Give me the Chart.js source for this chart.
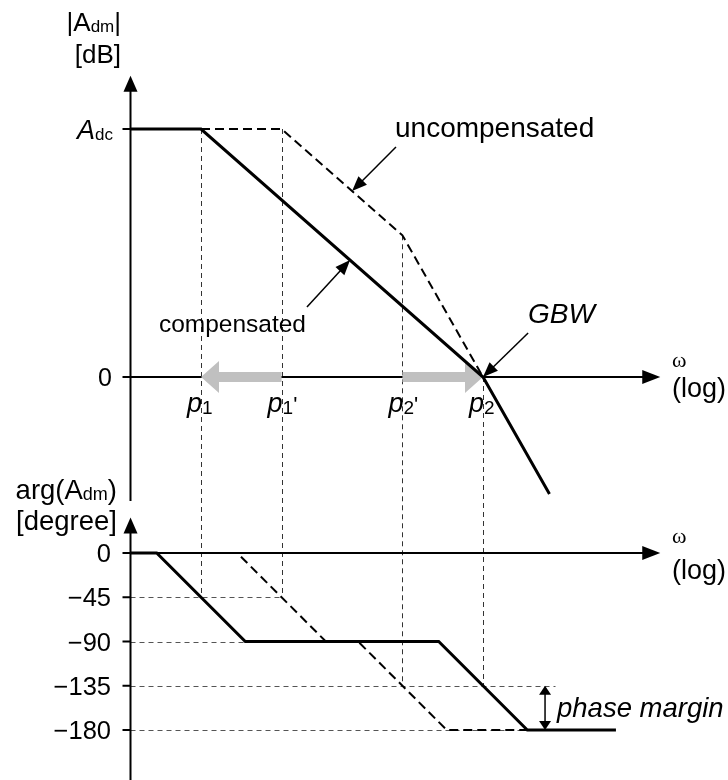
<!DOCTYPE html>
<html>
<head>
<meta charset="utf-8">
<script src="https://cdn.jsdelivr.net/npm/chart.js@4.4.1/dist/chart.umd.min.js"></script>
<style>
  html, body { margin: 0; padding: 0; background: #fff; }
  canvas { display: block; }
</style>
</head>
<body>
<canvas id="bode" width="728" height="780"></canvas>
<script>
// Frequency axis is log10(ω) in decades; poles p1, p1', p2', p2
const poleW = [2, 4, 7, 9];
const poleSub = ['1', '1', '2', '2'];
const polePrime = ['', "'", "'", ''];

// Magnitude asymptotes (dB)
const ADC_DB = 140;
const compMagW = [0.25, 2, 9, 10.65];
const compMagDb = [140, 140, 0, -66];
const uncMagW = [2, 4, 7, 9];
const uncMagDb = [140, 140, 80, 0];

// Phase asymptotes (degrees)
const compPhW = [0.25, 0.9, 3.1, 7.9, 10.1, 12.3];
const compPhDeg = [0, 0, -90, -90, -180, -180];
const uncPhW = [0.25, 2.9, 5.1, 5.9, 8.1, 12.3];
const uncPhDeg = [0, 0, -90, -90, -180, -180];

// Phase axis ticks
const phaseTicks = [0, -45, -90, -135, -180];
const phaseTickLabels = ['0', '\u221245', '\u221290', '\u2212135', '\u2212180'];

// Guide lines: each pole drops from its magnitude point to its phase point
const guideMagDb = [140, 140, 80, 0];
const guidePhDeg = [-45, -45, -135, -135];
// Horizontal phase guides run from the axis to these frequencies
const phaseGuideEnd = [null, 4, 3.1, 10.8, 10.1];

// Axis extents
const W_AXIS = 0.25, W_END = 13.4;
const MAG_AXIS = [-70, 170];
const PH_AXIS = [-232, 36];
const PM_W = 10.54; // phase margin marker

const FONT = "'Liberation Sans', Arial, Helvetica, sans-serif";
const SERIF = "'Liberation Serif', 'Times New Roman', serif";
const font = (s, it) => (it ? 'italic ' : '') + s + 'px ' + FONT;

function pts(xs, ys) { return xs.map((x, i) => ({ x, y: ys[i] })); }

// Draws a sequence of text runs (for subscripts) starting/ending at x on baseline y
function runs(ctx, parts, x, y, align) {
  ctx.textBaseline = 'alphabetic';
  ctx.textAlign = 'left';
  let w = 0;
  parts.forEach(p => { ctx.font = p.f || font(p.s, p.i); p.w = ctx.measureText(p.t).width; w += p.w; });
  let cx = align === 'right' ? x - w : align === 'center' ? x - w / 2 : x;
  parts.forEach(p => {
    ctx.font = p.f || font(p.s, p.i);
    ctx.fillText(p.t, cx, y + (p.dy || 0));
    cx += p.w;
  });
}

function head(ctx, tx, ty, fx, fy, len, half) {
  const a = Math.atan2(ty - fy, tx - fx);
  const bx = tx - len * Math.cos(a), by = ty - len * Math.sin(a);
  ctx.beginPath();
  ctx.moveTo(tx, ty);
  ctx.lineTo(bx + half * Math.sin(a), by - half * Math.cos(a));
  ctx.lineTo(bx - half * Math.sin(a), by + half * Math.cos(a));
  ctx.closePath();
  ctx.fill();
}

function pointer(ctx, fx, fy, tx, ty) {
  ctx.lineWidth = 1.5;
  const a = Math.atan2(ty - fy, tx - fx);
  ctx.beginPath();
  ctx.moveTo(fx, fy);
  ctx.lineTo(tx - 10 * Math.cos(a), ty - 10 * Math.sin(a));
  ctx.stroke();
  head(ctx, tx, ty, fx, fy, 15, 6);
}

// Wide grey arrow showing how a pole moves
function shift(ctx, fromX, toX, y) {
  const dir = Math.sign(toX - fromX);
  const hl = 18, hw = 16, sw = 5;
  const bx = toX - dir * hl;
  ctx.fillStyle = '#c0c0c0';
  ctx.beginPath();
  ctx.moveTo(fromX, y - sw);
  ctx.lineTo(bx, y - sw);
  ctx.lineTo(bx, y - hw);
  ctx.lineTo(toX, y);
  ctx.lineTo(bx, y + hw);
  ctx.lineTo(bx, y + sw);
  ctx.lineTo(fromX, y + sw);
  ctx.closePath();
  ctx.fill();
}

const decor = {
  id: 'bodeDecor',
  beforeDatasetsDraw(chart) {
    const { ctx, scales } = chart;
    const X = v => scales.x.getPixelForValue(v);
    const M = v => scales.yMag.getPixelForValue(v);
    const P = v => scales.yPh.getPixelForValue(v);
    const snap = v => Math.round(v) + 0.5;
    ctx.save();

    // dashed guides
    ctx.lineWidth = 1;
    ctx.setLineDash([5, 4]);
    ctx.strokeStyle = '#333';
    poleW.forEach((w, i) => {
      ctx.beginPath();
      ctx.moveTo(snap(X(w)), M(guideMagDb[i]));
      ctx.lineTo(snap(X(w)), P(guidePhDeg[i]));
      ctx.stroke();
    });
    ctx.strokeStyle = '#555';
    phaseTicks.forEach((d, i) => {
      if (phaseGuideEnd[i] == null) return;
      ctx.beginPath();
      ctx.moveTo(X(W_AXIS), snap(P(d)));
      ctx.lineTo(X(phaseGuideEnd[i]), snap(P(d)));
      ctx.stroke();
    });
    ctx.setLineDash([]);

    // axes
    ctx.strokeStyle = '#000';
    ctx.fillStyle = '#000';
    ctx.lineWidth = 2;
    const ax = X(W_AXIS);
    ctx.beginPath();
    ctx.moveTo(ax, M(MAG_AXIS[0])); ctx.lineTo(ax, M(MAG_AXIS[1]) + 10);
    ctx.moveTo(ax - 8, M(0)); ctx.lineTo(X(W_END) - 10, M(0));
    ctx.moveTo(ax - 8, M(ADC_DB)); ctx.lineTo(ax, M(ADC_DB));
    ctx.moveTo(ax, P(PH_AXIS[0])); ctx.lineTo(ax, P(PH_AXIS[1]) + 10);
    ctx.moveTo(ax - 8, P(0)); ctx.lineTo(X(W_END) - 10, P(0));
    phaseTicks.forEach(d => { ctx.moveTo(ax - 8, P(d)); ctx.lineTo(ax, P(d)); });
    ctx.stroke();
    head(ctx, ax, M(MAG_AXIS[1]), ax, M(0), 16, 7);
    head(ctx, ax, P(PH_AXIS[1]), ax, P(0), 16, 7);
    head(ctx, X(W_END), M(0), ax, M(0), 18, 7);
    head(ctx, X(W_END), P(0), ax, P(0), 18, 7);

    // pole movement arrows
    shift(ctx, X(poleW[1]), X(poleW[0]), M(0));
    shift(ctx, X(poleW[2]), X(poleW[3]), M(0));
    ctx.restore();
  },
  afterDatasetsDraw(chart) {
    const { ctx, scales } = chart;
    const X = v => scales.x.getPixelForValue(v);
    const M = v => scales.yMag.getPixelForValue(v);
    const P = v => scales.yPh.getPixelForValue(v);
    ctx.save();
    ctx.fillStyle = '#000';
    ctx.strokeStyle = '#000';

    // axis titles
    runs(ctx, [{ t: '|A', s: 26 }, { t: 'dm', s: 17, dy: 1 }, { t: '|', s: 26 }], 121, 31, 'right');
    runs(ctx, [{ t: '[dB]', s: 26 }], 121, 63, 'right');
    runs(ctx, [{ t: 'arg(A', s: 27.5 }, { t: 'dm', s: 18, dy: 1 }, { t: ')', s: 27.5 }], 117, 499, 'right');
    runs(ctx, [{ t: '[degree]', s: 27.5 }], 117, 530, 'right');
    [M(0), P(0)].forEach((y, k) => {
      runs(ctx, [{ t: '\u03c9', f: '22px ' + SERIF }], 672, y - 10, 'left');
      runs(ctx, [{ t: '(log)', s: 27 }], 672, y + 20 + (k ? 6 : 0), 'left');
    });

    // magnitude tick labels
    runs(ctx, [{ t: 'A', s: 27, i: true }, { t: 'dc', s: 17, dy: 1 }], 113, M(ADC_DB) + 10, 'right');
    runs(ctx, [{ t: '0', s: 25 }], 112, M(0) + 9, 'right');
    // phase tick labels
    phaseTicks.forEach((d, i) => runs(ctx, [{ t: phaseTickLabels[i], s: 25.5 }], 111, P(d) + 9, 'right'));

    // pole labels
    poleW.forEach((w, i) => {
      runs(ctx, [{ t: 'p', s: 27, i: true }, { t: poleSub[i], s: 19, dy: 2 }, { t: polePrime[i], s: 22 }],
        X(w) - 14, M(0) + 35, 'left');
    });

    // curve annotations
    runs(ctx, [{ t: 'uncompensated', s: 28 }], 395, 137, 'left');
    pointer(ctx, X(6.84), M(129.8), X(5.75), M(105));
    runs(ctx, [{ t: 'compensated', s: 24.5 }], 306, 332, 'right');
    pointer(ctx, X(4.63), M(39.5), X(5.7), M(66));
    runs(ctx, [{ t: 'GBW', s: 28, i: true }], 528, 323, 'left');
    pointer(ctx, X(10.12), M(24.8), X(poleW[3]), M(0));

    // phase margin marker
    const px = X(PM_W);
    ctx.lineWidth = 1.5;
    ctx.beginPath();
    ctx.moveTo(px, P(-135) + 6); ctx.lineTo(px, P(-180) - 6);
    ctx.stroke();
    head(ctx, px, P(-135), px, P(-180), 9, 6);
    head(ctx, px, P(-180), px, P(-135), 9, 6);
    runs(ctx, [{ t: 'phase margin', s: 27.5, i: true }], 557, 717, 'left');
    ctx.restore();
  }
};

// Pixel scale of the drawing: 282/7 px per decade, 248/140 px per dB, 177/180 px per degree
const PX_DEC = 282 / 7, PX_DB = 248 / 140, PX_DEG = 177 / 180;
const xMin = poleW[0] - 201 / PX_DEC;

const line = (data, axis, dashed) => ({
  data, yAxisID: axis,
  borderColor: '#000',
  borderWidth: dashed ? 2 : 3,
  borderDash: dashed ? [9, 5] : [],
  borderJoinStyle: 'miter',
  pointRadius: 0, tension: 0, fill: false
});

new Chart(document.getElementById('bode'), {
  type: 'line',
  data: {
    datasets: [
      line(pts(uncMagW, uncMagDb), 'yMag', true),
      line(pts(uncPhW, uncPhDeg), 'yPh', true),
      line(pts(compMagW, compMagDb), 'yMag', false),
      line(pts(compPhW, compPhDeg), 'yPh', false)
    ]
  },
  options: {
    responsive: false,
    animation: false,
    events: [],
    layout: { padding: 0 },
    plugins: { legend: { display: false }, tooltip: { enabled: false } },
    scales: {
      x: { type: 'linear', display: false, min: xMin, max: xMin + 728 / PX_DEC },
      yMag: { type: 'linear', display: false, min: -403 / PX_DB, max: ADC_DB + 129 / PX_DB },
      yPh: { type: 'linear', display: false, min: -227 / PX_DEG, max: 553 / PX_DEG }
    }
  },
  plugins: [decor]
});
</script>
</body>
</html>
